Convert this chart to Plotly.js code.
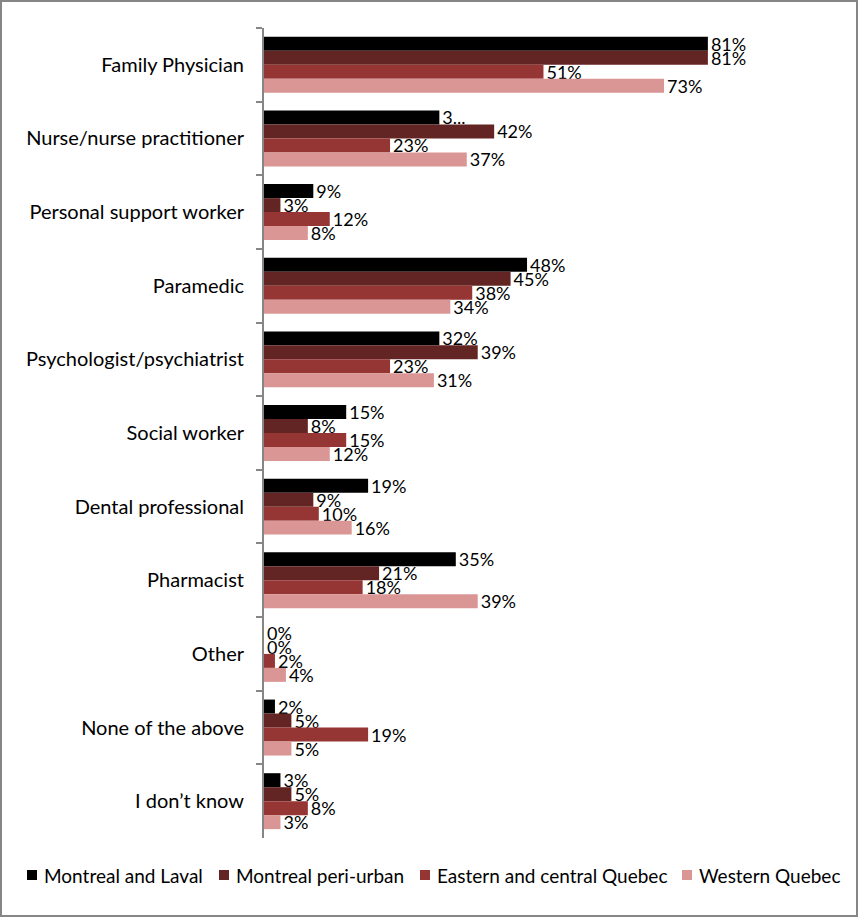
<!DOCTYPE html>
<html>
<head>
<meta charset="utf-8">
<script src="https://cdn.plot.ly/plotly-3.0.1.min.js"></script>
<style>
html,body{margin:0;padding:0;background:#fff;}
#wrap{position:relative;width:858px;height:917px;}
#chart{position:absolute;left:0;top:0;width:858px;height:917px;}
#border{position:absolute;left:0;top:0;width:854px;height:913px;border:2px solid #868686;pointer-events:none;}
</style>
</head>
<body>
<div id="wrap"><div id="chart"></div><div id="border"></div></div>
<script>
const categories = ["Family Physician","Nurse/nurse practitioner","Personal support worker","Paramedic","Psychologist/psychiatrist","Social worker","Dental professional","Pharmacist","Other","None of the above","I don\u2019t know"];
const seriesNames = ["Montreal and Laval","Montreal peri-urban","Eastern and central Quebec","Western Quebec"];
const montrealLaval = [81,32,9,48,32,15,19,35,0,2,3];
const montrealPeriUrban = [81,42,3,45,39,8,9,21,0,5,5];
const easternCentral = [51,23,12,38,23,15,10,18,2,19,8];
const westernQuebec = [73,37,8,34,31,12,16,39,4,5,3];
// data labels as shown (one label truncated in the original)
const labelsMontrealLaval = ["81%","3...","9%","48%","32%","15%","19%","35%","0%","2%","3%"];
const colors = ["#000000","#632523","#963634","#DA9694"];

const FONT = 'Lato, Carlito, sans-serif';
const W = 858, H = 917;
const M = {l: 264, r: 46, t: 28, b: 79};
const plotW = W - M.l - M.r, plotH = H - M.t - M.b;
const px2x = p => (p - M.l) / plotW;
const py2y = p => (H - M.b - p) / plotH;

const allValues = [montrealLaval, montrealPeriUrban, easternCentral, westernQuebec];
const traces = allValues.map((vals, i) => ({
  type: 'bar',
  orientation: 'h',
  name: seriesNames[i],
  y: categories,
  x: vals,
  marker: {color: colors[i]},
  text: i === 0 ? labelsMontrealLaval : vals.map(v => v + '%'),
  textposition: 'outside',
  constraintext: 'none',
  cliponaxis: false,
  textfont: {family: FONT, size: 18, color: '#000'},
  hoverinfo: 'skip'
}));

// manual legend (Excel-style), one row at the bottom
const legendSquareX = [27, 219, 420, 682];
const legendY = 875;
const shapes = [], annotations = [];
seriesNames.forEach((name, i) => {
  shapes.push({type: 'rect', xref: 'paper', yref: 'paper',
    x0: px2x(legendSquareX[i]), x1: px2x(legendSquareX[i] + 10),
    y0: py2y(legendY + 5), y1: py2y(legendY - 5),
    fillcolor: colors[i], line: {width: 0}});
  annotations.push({xref: 'paper', yref: 'paper',
    x: px2x(legendSquareX[i] + 15), y: py2y(legendY),
    xanchor: 'left', yanchor: 'middle', showarrow: false,
    text: name, font: {family: FONT, size: 19, color: '#000'}});
});

const layout = {
  width: W, height: H,
  margin: M,
  paper_bgcolor: '#fff', plot_bgcolor: '#fff',
  barmode: 'group',
  bargap: 0.24,
  bargroupgap: 0,
  font: {family: FONT, size: 18, color: '#000'},
  xaxis: {range: [0, 100], visible: false, showgrid: false, zeroline: false, fixedrange: true},
  yaxis: {
    type: 'category', autorange: 'reversed',
    showline: true, linecolor: '#868686', linewidth: 2,
    ticks: 'outside', tickson: 'boundaries', ticklen: 6, tickcolor: '#868686', tickwidth: 2,
    ticklabelstandoff: 14,
    tickfont: {family: FONT, size: 20, color: '#000'},
    showgrid: false, zeroline: false
  },
  showlegend: false,
  shapes: shapes,
  annotations: annotations
};

Plotly.newPlot('chart', traces, layout, {displayModeBar: false, staticPlot: true});
</script>
</body>
</html>
